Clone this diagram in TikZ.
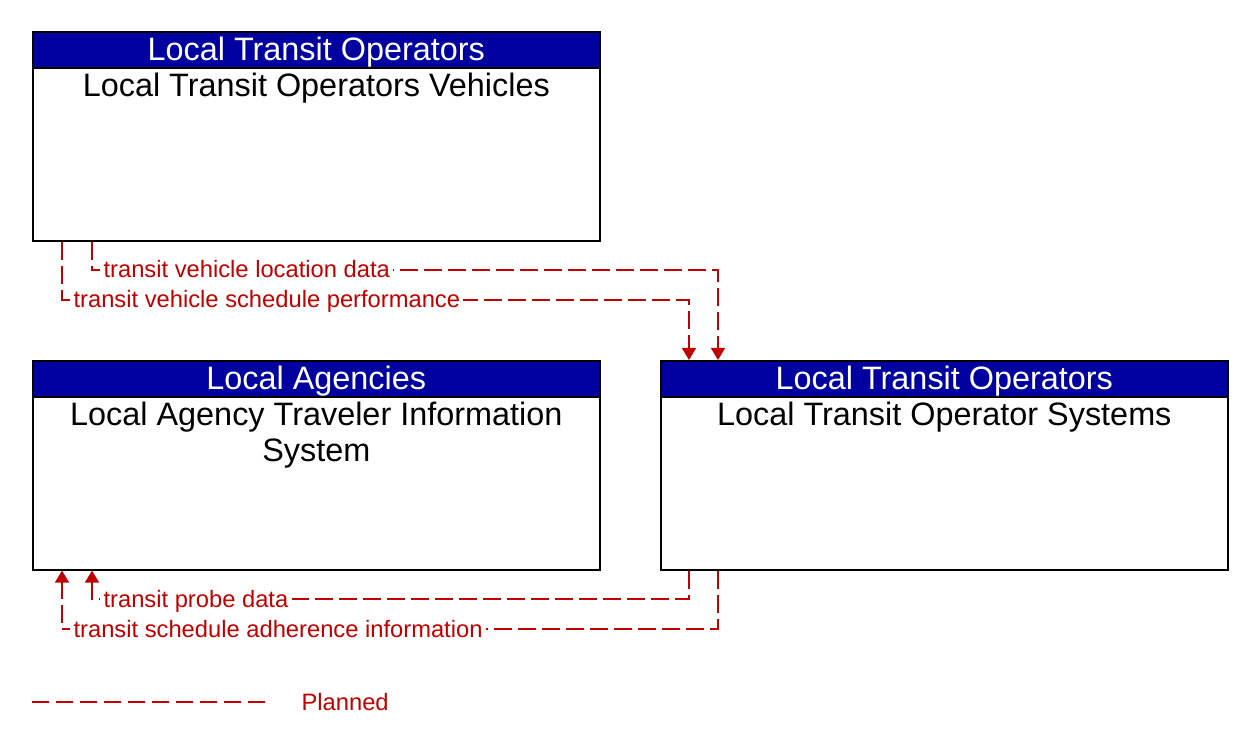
\documentclass[tikz,border=0pt]{standalone}
\usepackage{fontspec}
\setmainfont{Liberation Sans}
\usetikzlibrary{arrows.meta,calc}
\definecolor{hdrblue}{RGB}{0,0,160}
\definecolor{flowred}{RGB}{192,0,0}
\begin{document}
\begin{tikzpicture}[x=0.75pt,y=-0.75pt,
  box/.style={draw=black,line width=1.2pt,minimum width=425.25pt,minimum height=156.75pt,anchor=north west,inner sep=0pt},
  hdr/.style={draw=black,fill=hdrblue,line width=1.2pt,minimum width=425.25pt,minimum height=27pt,anchor=north,inner sep=0pt},
  hdrtext/.style={text=white,font=\fontsize{24.3pt}{27pt}\selectfont,inner sep=0pt,anchor=base},
  bodytext/.style={text=black,font=\fontsize{24.3pt}{27pt}\selectfont,inner sep=0pt,align=center,anchor=north},
  flow/.style={draw=flowred,line width=1.1pt,dash pattern=on 13.5pt off 4.5pt,-{Triangle[width=10.5pt,length=9pt]}},
  legline/.style={draw=flowred,line width=1.1pt,dash pattern=on 13pt off 5pt},
  lbl/.style={text=flowred,font=\fontsize{17.8pt}{21pt}\selectfont,fill=white,inner xsep=2.5pt,inner ysep=1pt,anchor=base west}
]
\useasboundingbox (0,0) rectangle (1252,748);

% boxes
\node[box] (veh) at (32,31) {};
\node[box] (ag) at (32,360) {};
\node[box] (sys) at (660,360) {};

\node[hdr] (vehh) at (veh.north) {};
\node[hdr] (agh) at (ag.north) {};
\node[hdr] (sysh) at (sys.north) {};

\node[hdrtext] (veht) at ($(veh.north)+(0,29.5)$) {Local Transit Operators};
\node[hdrtext] (agt) at ($(ag.north)+(0,29.5)$) {Local Agencies};
\node[hdrtext] (syst) at ($(sys.north)+(0,29.5)$) {Local Transit Operators};

\node[bodytext] (vehb) at ($(veh.north)+(0,42)$) {Local Transit Operators Vehicles};
\node[bodytext] (agb) at ($(ag.north)+(0,42)$) {Local Agency Traveler Information\\System};
\node[bodytext] (sysb) at ($(sys.north)+(0,42)$) {Local Transit Operator Systems};

% bend points
\coordinate (b1) at (718,270);
\coordinate (b2) at (689,300);
\coordinate (b3) at (689,599);
\coordinate (b4) at (718,629);

% connectors
\draw[flow] ($(veh.south west)+(60,0)$) |- (b1) -- (b1 |- sys.north);
\draw[flow] ($(veh.south west)+(30,0)$) |- (b2) -- (b2 |- sys.north);
\draw[flow] ($(sys.south west)+(29,0)$) -- (b3) -| ($(ag.south west)+(60,0)$);
\draw[flow] ($(sys.south west)+(58,0)$) -- (b4) -| ($(ag.south west)+(30,0)$);

% labels
\node[lbl] (l1) at (100,278) {transit vehicle location data};
\node[lbl] (l2) at (70,308) {transit vehicle schedule performance};
\node[lbl] (l3) at (100,607) {transit probe data};
\node[lbl] (l4) at (70,637) {transit schedule adherence information};

% legend
\coordinate (lg1) at (32,702);
\coordinate (lg2) at (265,702);
\draw[legline] (lg1) -- (lg2);
\node[lbl] (lgt) at (298,710) {Planned};
\end{tikzpicture}
\end{document}
